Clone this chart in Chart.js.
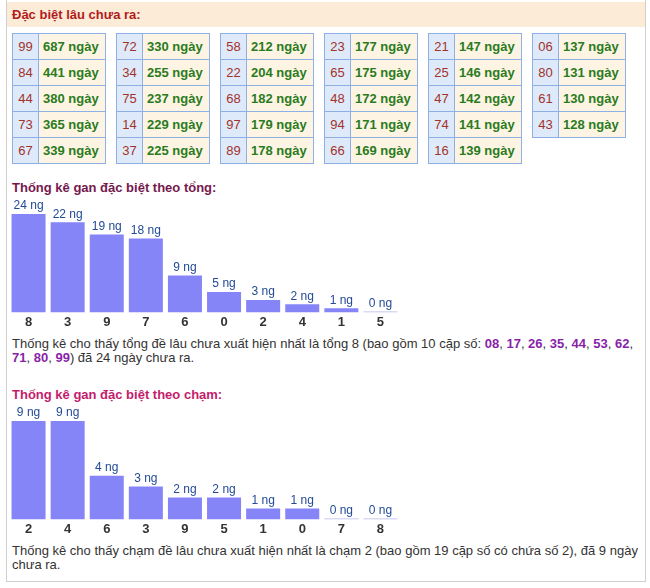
<!DOCTYPE html>
<html lang="vi">
<head>
<meta charset="UTF-8">
<title>Gan đặc biệt</title>
<script src="https://cdn.jsdelivr.net/npm/chart.js@4.4.1/dist/chart.umd.min.js"></script>
<style>
    body { margin: 0; width: 650px; height: 588px; background: #fff; font-family: Arial, "Liberation Sans", sans-serif; position: relative; overflow: hidden; }
    #box { position: absolute; left: 6px; top: -1px; width: 638px; height: 582px; border: 1px solid #d0d0d0; border-top: none; }
    #head { position: absolute; left: 7px; top: 2px; width: 638px; height: 25px; background: #fcebd7; }
    #head span { position: absolute; left: 5px; top: 5px; font-size: 13px; font-weight: bold; color: #b01c1c; }
    #tables { position: absolute; left: 12px; top: 33px; display: flex; gap: 10px; align-items: flex-start; }
    table { border-collapse: collapse; width: 94px; }
    td { border: 1px solid #8fb0e2; height: 25px; padding: 0; font-size: 13px; }
    td.num { width: 25px; background: #deeaf9; color: #a2332b; text-align: center; }
    td.day { background: #fdf4e4; color: #2a7b1c; font-weight: bold; padding-left: 4px; }
    .title { position: absolute; left: 12px; font-size: 13px; font-weight: bold; }
    .chart { position: absolute; left: 9px; width: 391px; height: 136px; }
    .note { position: absolute; left: 12px; width: 628px; font-size: 13px; line-height: 14px; color: #333; }
    .note b { color: #8a1fa8; }
</style>
</head>
<body>
<div id="box"></div>
<div id="head"><span>Đặc biệt lâu chưa ra:</span></div>
<div id="tables"></div>

<div class="title" style="top:180px; color:#75184e;">Thống kê gan đặc biệt theo tổng:</div>
<div class="chart" style="top:196px;"><canvas id="tongChart" width="391" height="136"></canvas></div>
<div class="note" style="top:337px;">Thống kê cho thấy tổng đề lâu chưa xuất hiện nhất là tổng 8 (bao gồm 10 cặp số: <b>08</b>, <b>17</b>, <b>26</b>, <b>35</b>, <b>44</b>, <b>53</b>, <b>62</b>, <b>71</b>, <b>80</b>, <b>99</b>) đã 24 ngày chưa ra.</div>

<div class="title" style="top:387px; color:#c41c6c;">Thống kê gan đặc biệt theo chạm:</div>
<div class="chart" style="top:403px;"><canvas id="chamChart" width="391" height="136"></canvas></div>
<div class="note" style="top:544px;">Thống kê cho thấy chạm đề lâu chưa xuất hiện nhất là chạm 2 (bao gồm 19 cặp số có chứa số 2), đã 9 ngày chưa ra.</div>

<script>
    // bảng gan: cặp số và số ngày chưa ra
    var ganNumbers = ['99','84','44','73','67','72','34','75','14','37','58','22','68','97','89',
                      '23','65','48','94','66','21','25','47','74','16','06','80','61','43'];
    var ganDays = [687,441,380,365,339,330,255,237,229,225,212,204,182,179,178,
                   177,175,172,171,169,147,146,142,141,139,137,131,130,128];

    // gan theo tổng
    var tongLabels = ['8','3','9','7','6','0','2','4','1','5'];
    var tongValues = [24,22,19,18,9,5,3,2,1,0];

    // gan theo chạm
    var chamLabels = ['2','4','6','3','9','5','1','0','7','8'];
    var chamValues = [9,9,4,3,2,2,1,1,0,0];

    var html = '';
    for (var t = 0; t < ganNumbers.length; t += 5) {
        html += '<table>';
        for (var r = t; r < Math.min(t + 5, ganNumbers.length); r++) {
            html += '<tr><td class="num">' + ganNumbers[r] + '</td><td class="day">' + ganDays[r] + ' ngày</td></tr>';
        }
        html += '</table>';
    }
    document.getElementById('tables').innerHTML = html;

    Chart.defaults.font.family = 'Arial, "Liberation Sans", sans-serif';

    var barLabels = {
        id: 'barLabels',
        afterDatasetsDraw: function(chart) {
            var ctx = chart.ctx;
            var meta = chart.getDatasetMeta(0);
            var values = chart.data.datasets[0].data;
            ctx.save();
            ctx.font = '12px Arial, "Liberation Sans", sans-serif';
            ctx.fillStyle = '#234b96';
            ctx.textAlign = 'center';
            ctx.textBaseline = 'bottom';
            meta.data.forEach(function(bar, i) {
                ctx.fillText(values[i] + ' ng', bar.x, bar.y - 2);
            });
            ctx.restore();
        }
    };

    function drawGan(id, labels, values) {
        return new Chart(document.getElementById(id), {
            type: 'bar',
            data: {
                labels: labels,
                datasets: [{
                    data: values,
                    backgroundColor: values.map(function(v) { return v === 0 ? '#b4b9e4' : '#8585f7'; }),
                    barPercentage: 0.87,
                    categoryPercentage: 1,
                    minBarLength: 1
                }]
            },
            options: {
                responsive: false,
                animation: false,
                layout: { padding: { top: 18, left: 0, right: 0, bottom: 0 } },
                plugins: { legend: { display: false }, tooltip: { enabled: false } },
                scales: {
                    x: {
                        grid: { display: false, drawTicks: false },
                        border: { display: false },
                        ticks: { color: '#333', font: { size: 13, weight: 'bold' }, padding: 2 }
                    },
                    y: { display: false, min: 0, max: Math.max.apply(null, values) }
                }
            },
            plugins: [barLabels]
        });
    }

    drawGan('tongChart', tongLabels, tongValues);
    drawGan('chamChart', chamLabels, chamValues);
</script>
</body>
</html>
